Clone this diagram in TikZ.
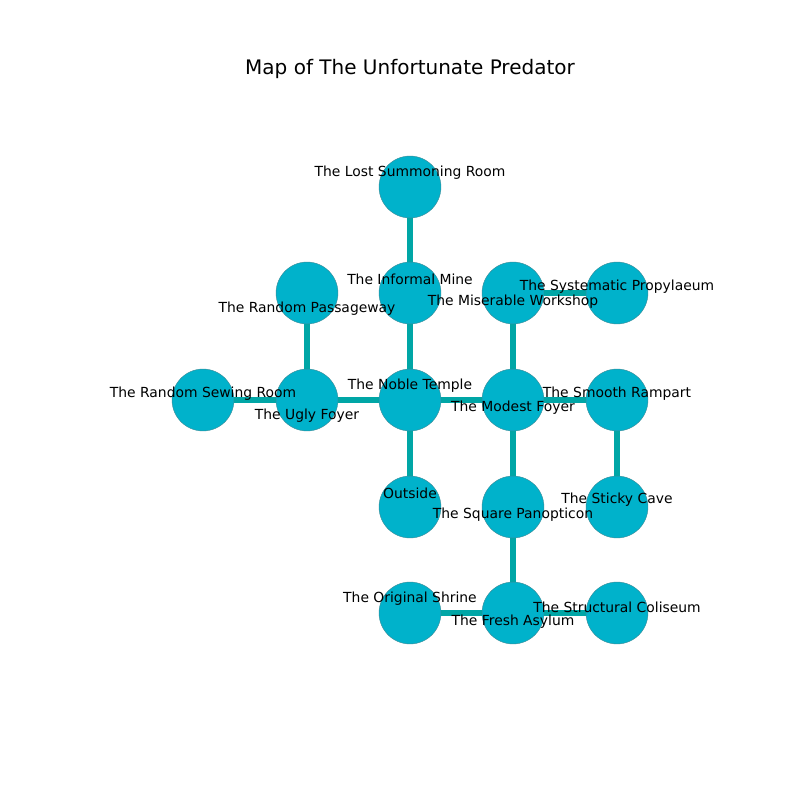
\documentclass[tikz,border=0pt]{standalone}
\usepackage{fontspec}
\setmainfont{DejaVu Sans}
\usetikzlibrary{backgrounds}
\definecolor{nodefill}{HTML}{00B2CB}
\definecolor{nodeedge}{HTML}{3C8A96}
\definecolor{edgecol}{HTML}{00A6A6}
\begin{document}
\begin{tikzpicture}[x=0.72pt,y=-0.72pt,
  room/.style={circle,fill=nodefill,draw=nodeedge,line width=0.3pt,minimum size=44.6pt,inner sep=0pt},
  lbl/.style={font=\fontsize{10}{12}\selectfont,inner sep=0pt,anchor=center},
  link/.style={edgecol,line width=4pt}]
\useasboundingbox (0,0) rectangle (800,800);
\node[font=\fontsize{14.4}{16}\selectfont] (title) at (410,69) {Map of The Unfortunate Predator};
% rooms
\node[room] (lost) at (410,187) {};
\node[room] (mine) at (410,293) {};
\node[room] (pass) at (307,293) {};
\node[room] (work) at (513,293) {};
\node[room] (prop) at (617,293) {};
\node[room] (sew) at (203,400) {};
\node[room] (ugly) at (307,400) {};
\node[room] (noble) at (410,400) {};
\node[room] (modest) at (513,400) {};
\node[room] (ramp) at (617,400) {};
\node[room] (out) at (410,507) {};
\node[room] (pan) at (513,507) {};
\node[room] (cave) at (617,507) {};
\node[room] (shrine) at (410,613) {};
\node[room] (asy) at (513,613) {};
\node[room] (col) at (617,613) {};
% connectors
\begin{scope}[on background layer]
\draw[link] (lost) -- (mine);
\draw[link] (mine) -- (noble);
\draw[link] (pass) -- (ugly);
\draw[link] (sew) -- (ugly);
\draw[link] (ugly) -- (noble);
\draw[link] (noble) -- (out);
\draw[link] (noble) -- (modest);
\draw[link] (work) -- (prop);
\draw[link] (work) -- (modest);
\draw[link] (modest) -- (ramp);
\draw[link] (ramp) -- (cave);
\draw[link] (modest) -- (pan);
\draw[link] (pan) -- (asy);
\draw[link] (shrine) -- (asy);
\draw[link] (asy) -- (col);
\end{scope}
% labels
\node[lbl] (llost) at (410,173) {The Lost Summoning Room};
\node[lbl] (lmine) at (410,279) {The Informal Mine};
\node[lbl] (lpass) at (307,309) {The Random Passageway};
\node[lbl] (lwork) at (513,302) {The Miserable Workshop};
\node[lbl] (lprop) at (617,287) {The Systematic Propylaeum};
\node[lbl] (lsew) at (203,394) {The Random Sewing Room};
\node[lbl] (lugly) at (307,416) {The Ugly Foyer};
\node[lbl] (lnoble) at (410,386) {The Noble Temple};
\node[lbl] (lmodest) at (513,408) {The Modest Foyer};
\node[lbl] (lramp) at (617,394) {The Smooth Rampart};
\node[lbl] (lout) at (410,493) {Outside};
\node[lbl] (lpan) at (513,515) {The Square Panopticon};
\node[lbl] (lcave) at (617,500) {The Sticky Cave};
\node[lbl] (lshrine) at (410,599) {The Original Shrine};
\node[lbl] (lasy) at (513,622) {The Fresh Asylum};
\node[lbl] (lcol) at (617,607) {The Structural Coliseum};
\end{tikzpicture}
\end{document}
